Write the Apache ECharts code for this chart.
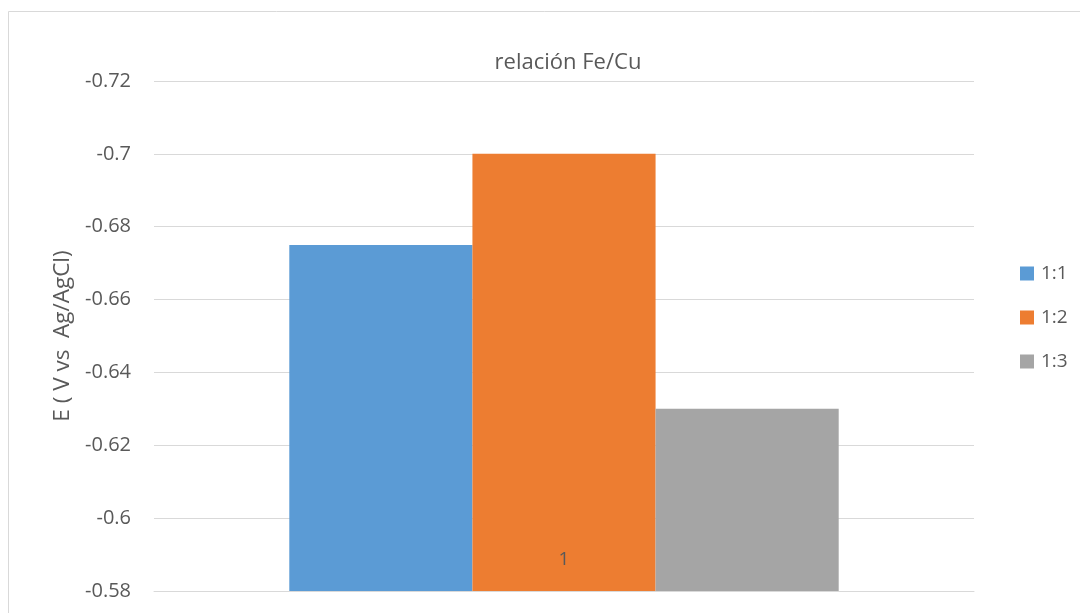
<!DOCTYPE html>
<html>
<head>
<meta charset="utf-8">
<script src="https://cdn.jsdelivr.net/npm/echarts@6/dist/echarts.min.js"></script>
<style>
  html, body { margin: 0; padding: 0; background: #fff; }
  #chart { width: 1080px; height: 613px; }
</style>
</head>
<body>
<div id="chart"></div>
<script>
// Potential (V vs Ag/AgCl) for each Fe/Cu ratio
const categories = ['1'];
const seriesNames = ['1:1', '1:2', '1:3'];
const values11 = [-0.675];
const values12 = [-0.70];
const values13 = [-0.63];
const seriesColors = ['#5b9bd5', '#ed7d31', '#a5a5a5'];

const FONT = 'Open Sans';
const TEXT = '#595959';
const GRID = '#d9d9d9';

const chart = echarts.init(document.getElementById('chart'), null, { renderer: 'canvas' });

const seriesData = [values11, values12, values13];

chart.setOption({
  backgroundColor: '#ffffff',
  animation: false,
  textStyle: { fontFamily: FONT },
  graphic: [{
    type: 'rect',
    shape: { x: 8.5, y: 11.5, width: 1100, height: 700 },
    style: { fill: 'none', stroke: GRID, lineWidth: 1 },
    silent: true
  }],
  title: {
    text: 'relación Fe/Cu',
    left: 563,
    textAlign: 'center',
    top: 47,
    textStyle: { fontFamily: FONT, fontSize: 22, fontWeight: 'normal', color: TEXT }
  },
  legend: {
    orient: 'vertical',
    left: 1015,
    top: 259,
    itemWidth: 14,
    itemHeight: 14,
    itemGap: 25,
    icon: 'rect',
    textStyle: { fontFamily: FONT, fontSize: 19, color: TEXT, padding: [0, 0, 0, 2] },
    data: seriesNames
  },
  grid: { left: 154, right: 106, top: 81, bottom: 22, containLabel: false },
  xAxis: {
    type: 'category',
    data: categories,
    axisLine: { show: true, lineStyle: { color: GRID, width: 1 } },
    axisTick: { show: false },
    axisLabel: { margin: -41, fontFamily: FONT, fontSize: 19, color: TEXT },
    z: 10
  },
  yAxis: {
    type: 'value',
    inverse: true,
    min: -0.72,
    max: -0.58,
    interval: 0.02,
    name: 'E ( V vs  Ag/AgCl)',
    nameLocation: 'middle',
    nameGap: 80,
    nameRotate: 90,
    nameTextStyle: { fontFamily: FONT, fontSize: 22.5, color: TEXT },
    axisLine: { show: false },
    axisTick: { show: false },
    axisLabel: { margin: 23, fontFamily: FONT, fontSize: 20, color: TEXT },
    splitLine: { lineStyle: { color: GRID, width: 1 } }
  },
  series: seriesNames.map((name, i) => ({
    name: name,
    type: 'bar',
    data: seriesData[i],
    barGap: '0%',
    barCategoryGap: '33%',
    itemStyle: { color: seriesColors[i] }
  }))
});
</script>
</body>
</html>
